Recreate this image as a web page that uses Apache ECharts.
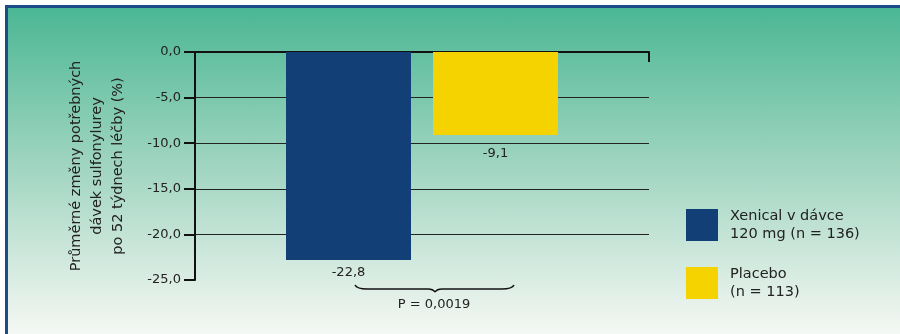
<!DOCTYPE html>
<html>
<head>
<meta charset="utf-8">
<script src="https://cdn.jsdelivr.net/npm/echarts@6/dist/echarts.min.js"></script>
<style>
  html, body { margin: 0; padding: 0; background: #ffffff; }
  #frame {
    position: absolute; left: 5px; top: 5px; width: 892px; height: 326px;
    border-top: 3px solid #1b4c88; border-left: 3px solid #1b4c88;
    background: linear-gradient(to bottom, #4bb794 0%, #a3d6c2 50%, #f5f8f4 100%);
  }
  #chart { position: absolute; left: 0; top: 0; width: 900px; height: 334px; }
</style>
</head>
<body>
<div id="frame"></div>
<div id="chart"></div>
<script>
// ---- data ----
const categories = [''];
const seriesNames = ['Xenical v dávce\n120 mg (n = 136)', 'Placebo\n(n = 113)'];
const xenicalValues = [-22.8];
const placeboValues = [-9.1];
const yTicks = { min: -25, max: 0, interval: 5 };
const yAxisTitle = 'Průměrné změny potřebných\ndávek sulfonylurey\npo 52 týdnech léčby (%)';
const pValueText = 'P = 0,0019';

const FONT = 'DejaVu Sans';
const fmt = v => v.toFixed(1).replace('.', ',');
const braceStyle = { stroke: '#111', lineWidth: 1.6, fill: null };

const chart = echarts.init(document.getElementById('chart'), null, { renderer: 'canvas' });
chart.setOption({
  backgroundColor: 'transparent',
  animation: false,
  textStyle: { fontFamily: FONT },
  grid: { left: 195, top: 52, width: 454, height: 228 },
  legend: {
    orient: 'vertical', left: 686, top: 207, padding: 0,
    itemWidth: 32, itemHeight: 32, itemGap: 22,
    icon: 'rect',
    textStyle: { fontFamily: FONT, fontSize: 14.5, color: '#222', lineHeight: 18, padding: [0, 0, 0, 7] },
    data: seriesNames
  },
  xAxis: {
    type: 'category', position: 'top', data: categories,
    axisLine: { show: true, lineStyle: { color: '#111', width: 2 } },
    axisTick: { show: true, inside: true, length: 10, lineStyle: { color: '#111', width: 2 } },
    axisLabel: { show: false },
    splitLine: { show: false }
  },
  yAxis: {
    type: 'value', min: yTicks.min, max: yTicks.max, interval: yTicks.interval,
    name: yAxisTitle, nameLocation: 'middle', nameRotate: 90, nameGap: 66,
    nameTextStyle: { fontFamily: FONT, fontSize: 14.5, color: '#222', lineHeight: 21, align: 'center' },
    axisLine: { show: true, lineStyle: { color: '#111', width: 2 } },
    axisTick: { show: true, length: 11, lineStyle: { color: '#111', width: 2 } },
    axisLabel: { formatter: fmt, margin: 14, fontFamily: FONT, fontSize: 13, color: '#222' },
    splitLine: { show: true, showMinLine: false, lineStyle: { color: '#222', width: 1.2 } }
  },
  series: [
    {
      name: seriesNames[0], type: 'bar', data: xenicalValues,
      barWidth: 125, barGap: '17.6%',
      itemStyle: { color: '#123f76' },
      label: { show: true, position: 'bottom', distance: 6, formatter: p => fmt(p.value),
               fontFamily: FONT, fontSize: 13, color: '#222' }
    },
    {
      name: seriesNames[1], type: 'bar', data: placeboValues,
      barWidth: 125,
      itemStyle: { color: '#f5d300' },
      label: { show: true, position: 'bottom', distance: 12, formatter: p => fmt(p.value),
               fontFamily: FONT, fontSize: 13, color: '#222' }
    }
  ],
  graphic: [
    { type: 'bezierCurve', silent: true, shape: { x1: 355, y1: 285, cpx1: 357, cpy1: 289, x2: 367, y2: 289 }, style: braceStyle },
    { type: 'line', silent: true, shape: { x1: 367, y1: 289, x2: 428, y2: 289 }, style: braceStyle },
    { type: 'bezierCurve', silent: true, shape: { x1: 428, y1: 289, cpx1: 433, cpy1: 289, x2: 435, y2: 292 }, style: braceStyle },
    { type: 'bezierCurve', silent: true, shape: { x1: 435, y1: 292, cpx1: 437, cpy1: 289, x2: 442, y2: 289 }, style: braceStyle },
    { type: 'line', silent: true, shape: { x1: 442, y1: 289, x2: 502, y2: 289 }, style: braceStyle },
    { type: 'bezierCurve', silent: true, shape: { x1: 502, y1: 289, cpx1: 512, cpy1: 289, x2: 514, y2: 285 }, style: braceStyle },
    {
      type: 'text', x: 434, y: 305, silent: true,
      style: { text: pValueText, fontFamily: FONT, fontSize: 13, fill: '#222', align: 'center', verticalAlign: 'middle' }
    }
  ]
});
</script>
</body>
</html>
